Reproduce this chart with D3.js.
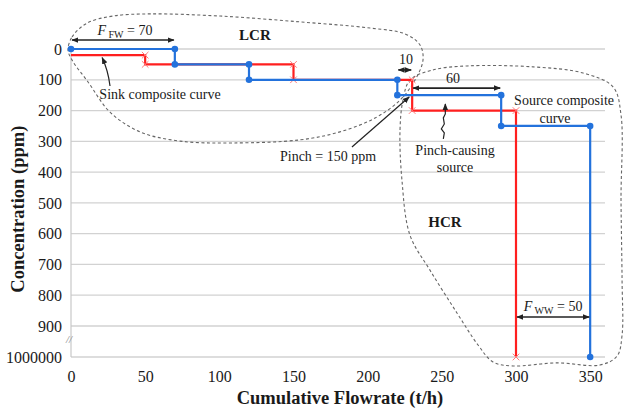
<!DOCTYPE html>
<html>
<head>
<meta charset="utf-8">
<script src="https://cdn.jsdelivr.net/npm/d3@7"></script>
<style>
  body { margin: 0; background: #fff; }
  svg text { font-family: "Liberation Serif", "Times New Roman", serif; fill: #1a1a1a; }
</style>
</head>
<body>
<div id="chart"></div>
<script>
// tick labels
const xTicks = [0, 50, 100, 150, 200, 250, 300, 350]
const yTicks = [0, 100, 200, 300, 400, 500, 600, 700, 800, 900, 1000000]

// source composite curve (blue) - cumulative flowrate (t/h) / concentration (ppm)
const sourceFlow = [0, 70, 70, 120, 120, 220, 220, 290, 290, 350, 350]
const sourceConc = [0, 0, 50, 50, 100, 100, 150, 150, 250, 250, 1000000]

// sink composite curve (red)
const sinkFlow = [0, 50, 50, 150, 150, 230, 230, 300, 300]
const sinkConc = [20, 20, 50, 50, 100, 100, 200, 200, 1000000]

// annotation outlines, in (flowrate, axis level) units; level 1000 = the 1000000 row
const lcrLoop = [[-2,3],[0.7,-39],[10.8,-84],[28.3,-107],[53.3,-114],[100.5,-107],[154.4,-88],[201.6,-68],
  [225.2,-49],[235.3,-13],[237.3,36],[231.9,101],[221.8,166],[205,224],[181.3,269],[154.4,295],
  [109.2,305],[73.5,299],[46.5,269],[26.3,205],[11.5,107],[0.7,36]]
const hcrLoop = [[228.5,101],[244,68],[267,55],[311.5,58],[345.2,78],[365.4,123],[370.8,214],[370.8,490],
  [371.5,750],[371.5,929],[368.1,997],[356.6,1026],[327.6,1019],[298,1029],[284.5,1016],[274.4,961],
  [260.2,857],[242,718],[228.5,604],[223.1,425],[221.8,263],[223.8,166]]

const width = 627, height = 411

const x = d3.scaleLinear().domain([0, 360]).range([71, 605])
// broken axis: 0..900 linear, then one slot to 1000000
const y = d3.scaleLinear().domain([0, 900, 1000000]).range([49, 326, 357])
const yl = d3.scaleLinear().domain([0, 1000]).range([49, 357])

const svg = d3.select('#chart').append('svg')
  .attr('width', width)
  .attr('height', height)

const defs = svg.append('defs')
defs.append('marker')
  .attr('id', 'ah')
  .attr('viewBox', '0 0 10 10')
  .attr('refX', 9).attr('refY', 5)
  .attr('markerUnits', 'userSpaceOnUse')
  .attr('markerWidth', 7).attr('markerHeight', 7)
  .attr('orient', 'auto-start-reverse')
  .append('path')
  .attr('d', 'M0,1 L10,5 L0,9 Z')
  .attr('fill', '#222')

// grid
svg.append('g')
  .selectAll('line')
  .data(yTicks)
  .enter().append('line')
  .attr('x1', x(0)).attr('x2', x(360))
  .attr('y1', d => y(d)).attr('y2', d => y(d))
  .style('stroke', '#d2d2d2')
  .style('stroke-width', 1.3)

svg.append('line')
  .attr('x1', x(0)).attr('x2', x(0))
  .attr('y1', y(0)).attr('y2', y(1000000))
  .style('stroke', '#c8c8c8')
  .style('stroke-width', 1.2)

// axes (labels only)
const yAxis = svg.append('g')
  .attr('transform', `translate(${x(0)},0)`)
  .call(d3.axisLeft(y).tickValues(yTicks).tickFormat(d => d).tickSize(0).tickPadding(9))
yAxis.select('.domain').remove()
yAxis.selectAll('text').style('font-size', '16px').style('font-family', '"Liberation Serif", serif')

const xAxis = svg.append('g')
  .attr('transform', `translate(0,${y(1000000)})`)
  .call(d3.axisBottom(x).tickValues(xTicks).tickSize(0).tickPadding(14))
xAxis.select('.domain').remove()
xAxis.selectAll('text').style('font-size', '16px').style('font-family', '"Liberation Serif", serif')

svg.append('text')
  .attr('x', x(0) - 2).attr('y', yl(955))
  .attr('text-anchor', 'middle')
  .style('font-size', '11px').style('font-style', 'italic').style('fill', '#888')
  .text('//')

svg.append('text')
  .attr('x', 340).attr('y', 404)
  .attr('text-anchor', 'middle')
  .style('font-size', '18.5px').style('font-weight', 'bold')
  .text('Cumulative Flowrate (t/h)')

svg.append('text')
  .attr('transform', `translate(24,${yl(520)}) rotate(-90)`)
  .attr('text-anchor', 'middle')
  .style('font-size', '18.5px').style('font-weight', 'bold')
  .text('Concentration (ppm)')

// dashed region outlines
const loop = d3.line()
  .x(d => x(d[0])).y(d => yl(d[1]))
  .curve(d3.curveCatmullRomClosed)
svg.selectAll('.region')
  .data([lcrLoop, hcrLoop])
  .enter().append('path')
  .attr('class', 'region')
  .attr('d', loop)
  .style('fill', 'none')
  .style('stroke', '#666')
  .style('stroke-width', 1.1)
  .style('stroke-dasharray', '3,2.5')

// composite curves
const sink = sinkFlow.map((f, i) => [f, sinkConc[i]])
const source = sourceFlow.map((f, i) => [f, sourceConc[i]])
const line = d3.line().x(d => x(d[0])).y(d => y(d[1]))

svg.append('path')
  .attr('d', line(sink))
  .style('fill', 'none')
  .style('stroke', '#ff1f1f')
  .style('stroke-width', 2.2)

svg.selectAll('.cross')
  .data(sink.slice(1))
  .enter().append('path')
  .attr('class', 'cross')
  .attr('transform', d => `translate(${x(d[0])},${y(d[1])})`)
  .attr('d', d3.symbol(d3.symbolX, 30))
  .style('fill', 'none')
  .style('stroke', '#ff7a7a')
  .style('stroke-width', 1)

svg.append('path')
  .attr('d', line(source))
  .style('fill', 'none')
  .style('stroke', '#2372dc')
  .style('stroke-width', 2.2)

svg.selectAll('.dot')
  .data(source)
  .enter().append('circle')
  .attr('class', 'dot')
  .attr('cx', d => x(d[0])).attr('cy', d => y(d[1]))
  .attr('r', 3.3)
  .style('fill', '#2372dc')

// double arrows
const spans = [
  { from: 0, to: 70, level: -29 },
  { from: 220, to: 230, level: 68 },
  { from: 230, to: 290, level: 127 },
  { from: 300, to: 350, level: 870 }
]
svg.selectAll('.span')
  .data(spans)
  .enter().append('line')
  .attr('class', 'span')
  .attr('x1', d => x(d.from) + 1).attr('x2', d => x(d.to) - 1)
  .attr('y1', d => yl(d.level)).attr('y2', d => yl(d.level))
  .style('stroke', '#222').style('stroke-width', 1.6)
  .attr('marker-start', 'url(#ah)').attr('marker-end', 'url(#ah)')

// pointer arrows
const pointers = [
  'M' + x(26.3) + ',' + yl(120) + ' Q' + x(25) + ',' + yl(70) + ' ' + x(21) + ',' + yl(28),
  'M' + x(189.4) + ',' + yl(318) + ' L' + x(228) + ',' + yl(156),
  'M' + x(251) + ',' + yl(292) + ' l1,-6 l-3,-4 l3,-5 l-1,-6 l2,-4 l0,-10'
]
svg.selectAll('.ptr')
  .data(pointers)
  .enter().append('path')
  .attr('class', 'ptr')
  .attr('d', d => d)
  .style('fill', 'none')
  .style('stroke', '#222').style('stroke-width', 1.2)
  .attr('marker-end', 'url(#ah)')

// labels
const labels = [
  { t: 'LCR', f: 124, l: -29, size: 15, bold: true },
  { t: 'Sink composite curve', f: 60, l: 162, size: 14 },
  { t: '10', f: 225.8, l: 49, size: 14 },
  { t: '60', f: 257.5, l: 110, size: 14 },
  { t: 'Source composite', f: 332.4, l: 182, size: 14 },
  { t: 'curve', f: 326.3, l: 240, size: 14 },
  { t: 'Pinch = 150 ppm', f: 173.3, l: 364, size: 14 },
  { t: 'Pinch-causing', f: 258.9, l: 344, size: 14 },
  { t: 'source', f: 258.9, l: 399, size: 14 },
  { t: 'HCR', f: 252.1, l: 578, size: 15, bold: true }
]
svg.selectAll('.lbl')
  .data(labels)
  .enter().append('text')
  .attr('class', 'lbl')
  .attr('x', d => x(d.f)).attr('y', d => yl(d.l))
  .attr('text-anchor', 'middle')
  .style('font-size', d => d.size + 'px')
  .style('font-weight', d => d.bold ? 'bold' : 'normal')
  .text(d => d.t)

// F_FW and F_WW with subscripts
const flows = [
  { sub: 'FW', val: 70, f: 36.4, l: -45 },
  { sub: 'WW', val: 50, f: 325, l: 851 }
]
flows.forEach(d => {
  const t = svg.append('text')
    .attr('x', x(d.f)).attr('y', yl(d.l))
    .attr('text-anchor', 'middle')
    .style('font-size', '14px')
  t.append('tspan').style('font-style', 'italic').text('F')
  t.append('tspan').attr('dy', 3).style('font-size', '10px').text(' ' + d.sub)
  t.append('tspan').attr('dy', -3).text(' = ' + d.val)
})
</script>
</body>
</html>
